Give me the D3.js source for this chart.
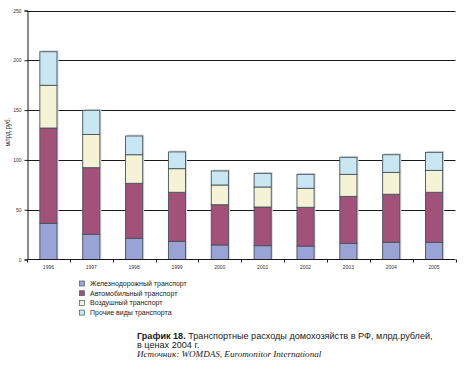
<!DOCTYPE html>
<html><head><meta charset="utf-8">
<script src="https://cdn.jsdelivr.net/npm/d3@7"></script>
<style>body{margin:0;background:#fff;}svg{display:block;}</style>
</head><body>
<svg id="c" width="467" height="369"></svg>
<script>
const years = ["1996","1997","1998","1999","2000","2001","2002","2003","2004","2005"];
const seriesNames = ["Железнодорожный транспорт","Автомобильный транспорт","Воздушный транспорт","Прочие виды транспорта"];
const rail  = [36.3, 25.3, 21.3, 18.3, 14.6, 13.9, 13.5, 16.2, 17.2, 17.2];
const road  = [95.7, 66.9, 55.2, 49.2, 40.4, 38.8, 38.9, 47.2, 48.3, 50.3];
const air   = [42.9, 33.3, 28.7, 23.7, 19.8, 20.1, 19.1, 22.1, 22.0, 22.0];
const other = [33.7, 24.3, 18.8, 16.8, 14.1, 13.7, 14.0, 17.1, 17.7, 18.1];
const yTicks = [0, 50, 100, 150, 200, 250];
const colors = ["#9aa3d6", "#a25279", "#f4f3d6", "#c9e7f2"];

const svg = d3.select("#c");
const x = d3.scaleBand().domain(years).range([27, 455.5]).paddingInner(0.6).paddingOuter(0.3);
const xb = d3.scaleBand().domain(years).range([27, 455.5]);
const y = d3.scaleLinear().domain([0, 250]).range([259.5, 10.5]);

// gridlines
svg.append("g").selectAll("line").data(yTicks.filter(d => d > 0)).join("line")
  .attr("x1", 27).attr("x2", 455.5)
  .attr("y1", d => Math.round(y(d)) + 0.5).attr("y2", d => Math.round(y(d)) + 0.5)
  .attr("stroke", "#1a1a1a").attr("stroke-width", 1);

const data = years.map((yr, i) => ({year: yr, v: [rail[i], road[i], air[i], other[i]]}));
const stack = d3.stack().keys([0,1,2,3]).value((d, k) => d.v[k]);
const layers = stack(data);

// shadow
svg.append("g").selectAll("rect").data(data).join("rect")
  .attr("x", d => x(d.year) + 1.5)
  .attr("y", d => y(d3.sum(d.v)) - 1.5)
  .attr("width", x.bandwidth())
  .attr("height", d => y(0) - y(d3.sum(d.v)) + 1.5)
  .attr("fill", "#d9d9d9");

const g = svg.append("g");
layers.forEach((layer, k) => {
  g.append("g").selectAll("rect").data(layer).join("rect")
    .attr("x", d => x(d.data.year))
    .attr("y", d => y(d[1]))
    .attr("width", x.bandwidth())
    .attr("height", d => y(d[0]) - y(d[1]))
    .attr("fill", colors[k])
    .attr("stroke", "#46525b").attr("stroke-width", 0.9);
});

// axes
const yAxis = d3.axisLeft(y).tickValues(yTicks).tickSize(3).tickPadding(3);
const ya = svg.append("g").attr("transform", "translate(27.5,0)").call(yAxis);
ya.select(".domain").attr("stroke", "#1a1a1a");
ya.selectAll(".tick line").attr("stroke", "#1a1a1a");
ya.selectAll("text").attr("font-family", "Liberation Sans, Arial, sans-serif").attr("font-size", 5).attr("fill", "#333");

const xa = svg.append("g").attr("transform", "translate(0,259.5)");
xa.append("line").attr("x1", 27).attr("x2", 455.5).attr("stroke", "#1a1a1a");
const bounds = years.map(d => xb(d)).concat([455.5]);
xa.selectAll("line.t").data(bounds).join("line").attr("class", "t")
  .attr("x1", d => Math.round(d) + 0.5).attr("x2", d => Math.round(d) + 0.5)
  .attr("y1", 0).attr("y2", 3).attr("stroke", "#1a1a1a");
xa.selectAll("text").data(years).join("text")
  .attr("x", d => x(d) + x.bandwidth() / 2).attr("y", 9)
  .attr("text-anchor", "middle")
  .attr("font-family", "Liberation Sans, Arial, sans-serif").attr("font-size", 5).attr("fill", "#333")
  .text(d => d);

// y label
svg.append("text").attr("transform", "translate(10,132) rotate(-90)")
  .attr("text-anchor", "middle").attr("font-family", "Liberation Sans, Arial, sans-serif")
  .attr("font-size", 6.3).attr("fill", "#333").text("млрд.руб.");

// legend
const lg = svg.append("g");
seriesNames.forEach((n, k) => {
  const yy = 283.5 + k * 9.7;
  lg.append("rect").attr("x", 79.5).attr("y", yy - 2.5).attr("width", 5).attr("height", 5)
    .attr("fill", colors[k]).attr("stroke", "#4e5a63").attr("stroke-width", 0.7);
  lg.append("text").attr("x", 90).attr("y", yy + 2.5)
    .attr("font-family", "Liberation Sans, Arial, sans-serif").attr("font-size", 7)
    .attr("fill", "#222").text(n);
});

// caption
const cap = svg.append("text").attr("x", 137).attr("y", 339)
  .attr("font-family", "Liberation Sans, Arial, sans-serif").attr("font-size", 9.1).attr("fill", "#1a1a1a");
cap.append("tspan").attr("font-weight", "bold").text("График 18.");
cap.append("tspan").text(" Транспортные расходы домохозяйств в РФ, млрд.рублей,");
svg.append("text").attr("x", 137).attr("y", 347.8)
  .attr("font-family", "Liberation Sans, Arial, sans-serif").attr("font-size", 9.1).attr("fill", "#1a1a1a")
  .text("в ценах 2004 г.");
svg.append("text").attr("x", 137).attr("y", 356.5)
  .attr("font-family", "Liberation Serif, Times New Roman, serif").attr("font-style", "italic")
  .attr("font-size", 9.1).attr("fill", "#1a1a1a")
  .text("Источник: WOMDAS, Euromonitor International");
</script>
</body></html>
